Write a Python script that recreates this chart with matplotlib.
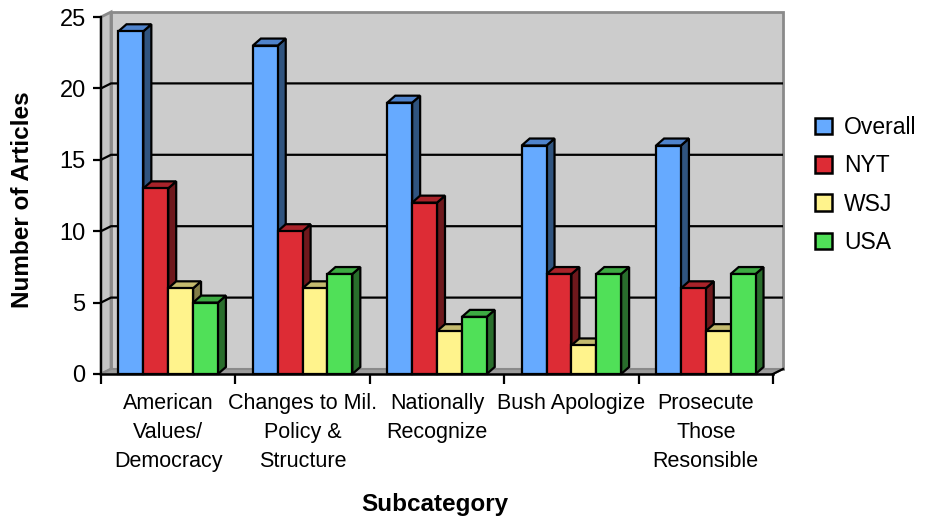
import matplotlib
matplotlib.use("Agg")
import matplotlib.pyplot as plt
from matplotlib.patches import Polygon, Patch
import numpy as np

plt.rcParams['font.family'] = ['Liberation Sans', 'DejaVu Sans']

# Data
categories = ["American\nValues/\nDemocracy", "Changes to Mil.\nPolicy &\nStructure",
              "Nationally\nRecognize", "Bush Apologize", "Prosecute\nThose\nResonsible"]
series_names = ["Overall", "NYT", "WSJ", "USA"]
overall = [24, 23, 19, 16, 16]
nyt = [13, 10, 12, 7, 6]
wsj = [6, 6, 3, 2, 3]
usa = [5, 7, 4, 7, 7]
y_ticks = [0, 5, 10, 15, 20, 25]

series = [overall, nyt, wsj, usa]
# (front, top, side) shading for each series
colors = [("#66AAFF", "#4F83CC", "#30547F"),
          ("#DD2C35", "#A8232A", "#6E181C"),
          ("#FFF38C", "#C4BA6E", "#827C48"),
          ("#50E058", "#3DAA42", "#296E2C")]

W, H, DPI = 926, 519, 100
fig = plt.figure(figsize=(W / DPI, H / DPI), dpi=DPI)
L, R, B, T = 101, 773, 374, 17
ax = fig.add_axes([L / W, 1 - B / H, (R - L) / W, (B - T) / H])
ax.set_xlim(-0.5, len(categories) - 0.5)
ax.set_ylim(0, 25)
ax.patch.set_visible(False)

inv = ax.transData.inverted()


def depth(dpx, dpy):
    p0 = inv.transform(ax.transData.transform((0, 0)))
    d = inv.transform(ax.transData.transform((0, 0)) + np.array([dpx, dpy])) - p0
    return d


wdx, wdy = depth(10, 5)     # wall depth
bdx, bdy = depth(8, 7)      # bar depth

x0, x1 = -0.5, len(categories) - 0.5
y0, y1 = 0, 25
wall_edge = "#8A8A8A"

# back wall
ax.add_patch(Polygon([(x0 + wdx, y0 + wdy), (x1 + wdx, y0 + wdy), (x1 + wdx, y1 + wdy),
                      (x0 + wdx, y1 + wdy)], closed=True, facecolor="#CCCCCC",
                     edgecolor=wall_edge, lw=2, clip_on=False, zorder=0.5))
# left wall
ax.add_patch(Polygon([(x0, y0), (x0 + wdx, y0 + wdy), (x0 + wdx, y1 + wdy), (x0, y1)],
                     closed=True, facecolor="#C4C4C4", edgecolor=wall_edge, lw=2,
                     clip_on=False, zorder=0.6))
# floor
ax.add_patch(Polygon([(x0, y0), (x1, y0), (x1 + wdx, y0 + wdy), (x0 + wdx, y0 + wdy)],
                     closed=True, facecolor="#9C9C9C", edgecolor=wall_edge, lw=1.5,
                     clip_on=False, zorder=0.7))

# gridlines across left and back walls
for yv in y_ticks[1:-1]:
    ax.plot([x0, x0 + wdx, x1 + wdx], [yv, yv + wdy, yv + wdy], color="black",
            lw=1.6, clip_on=False, zorder=1, solid_capstyle="butt")

# 3D-looking bars
group_w = 0.74
bw = group_w / len(series)
z = 2
for ci in range(len(categories)):
    for si, vals in enumerate(series):
        h = vals[ci]
        left = ci - group_w / 2 + si * bw
        right = left + bw
        fc, tc, sc = colors[si]
        side = [(right, 0), (right + bdx, bdy), (right + bdx, h + bdy), (right, h)]
        top = [(left, h), (right, h), (right + bdx, h + bdy), (left + bdx, h + bdy)]
        front = [(left, 0), (right, 0), (right, h), (left, h)]
        for pts, c in ((side, sc), (top, tc), (front, fc)):
            ax.add_patch(Polygon(pts, closed=True, facecolor=c, edgecolor="black",
                                 lw=1.6, joinstyle="miter", clip_on=False, zorder=z))
            z += 0.01

# axes lines
for s in ("top", "right"):
    ax.spines[s].set_visible(False)
ax.spines["left"].set_linewidth(1.6)
ax.spines["bottom"].set_linewidth(1.8)
ax.spines["left"].set_zorder(50)
ax.spines["bottom"].set_zorder(50)
ax.plot([x1, x1 + wdx], [0, wdy], color="black", lw=1.6, clip_on=False, zorder=50)

ax.set_yticks(y_ticks)
ax.set_yticklabels([str(v) for v in y_ticks])
ax.tick_params(axis="y", direction="out", length=6, width=1.6, labelsize=17, pad=5)

ax.set_xticks(np.arange(len(categories)))
ax.set_xticklabels(categories, fontsize=15.5, linespacing=1.48, va="top")
ax.set_xticks(np.arange(len(categories) + 1) - 0.5, minor=True)
ax.tick_params(axis="x", which="major", length=0, pad=14)
ax.tick_params(axis="x", which="minor", direction="out", length=7, width=1.6)

fig.text(23 / W, 1 - 200 / H, "Number of Articles", rotation=90, ha="center", va="center",
         fontsize=17.5, fontweight="bold")
fig.text(435 / W, 1 - 505 / H, "Subcategory", ha="center", va="center",
         fontsize=17.5, fontweight="bold")

handles = [Patch(facecolor=colors[i][0], edgecolor="black", lw=1.8) for i in range(4)]
fig.legend(handles, series_names, loc="center left", bbox_to_anchor=(815 / W, 1 - 185 / H),
           frameon=False, fontsize=16.5, handlelength=0.72, handleheight=0.72,
           handletextpad=0.55, labelspacing=0.66, borderpad=0, borderaxespad=0)

fig.savefig("out.png", dpi=DPI)
